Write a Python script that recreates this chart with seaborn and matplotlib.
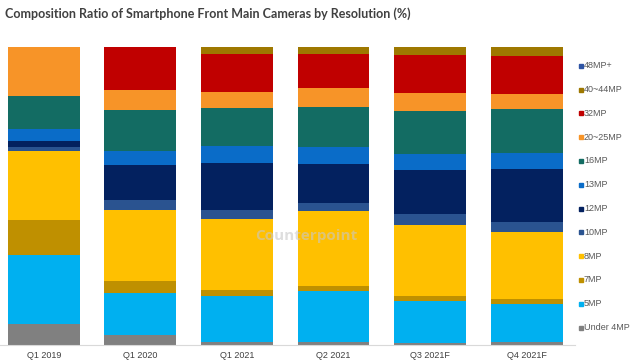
# Composition ratio of smartphone front main cameras by resolution (stacked bars)
import numpy as np
import pandas as pd
import seaborn as sns
import matplotlib.pyplot as plt

# Data (% share)
quarters = ["Q1 2019", "Q1 2020", "Q1 2021", "Q2 2021", "Q3 2021F", "Q4 2021F"]
resolutions = ["48MP+", "40~44MP", "32MP", "20~25MP", "16MP", "13MP",
               "12MP", "10MP", "8MP", "7MP", "5MP", "Under 4MP"]

mp48 = [0.0, 0.0, 0.0, 0.0, 0.0, 0.0]
mp40_44 = [0.0, 0.1, 2.5, 2.5, 2.8, 3.1]
mp32 = [0.2, 14.2, 12.7, 11.3, 12.7, 12.9]
mp20_25 = [16.4, 6.7, 5.4, 6.4, 6.0, 5.0]
mp16 = [11.2, 13.8, 12.9, 13.2, 14.3, 14.8]
mp13 = [3.9, 4.8, 5.6, 5.8, 5.6, 5.3]
mp12 = [2.0, 11.6, 15.7, 13.2, 14.8, 17.7]
mp10 = [1.3, 3.5, 3.2, 2.7, 3.7, 3.4]
mp8 = [23.1, 23.7, 23.9, 25.2, 23.7, 22.4]
mp7 = [12.0, 4.1, 1.7, 1.7, 1.5, 1.7]
mp5 = [23.0, 14.0, 15.5, 16.9, 14.3, 12.9]
under4 = [7.1, 3.5, 1.1, 1.1, 0.6, 0.9]

series = [mp48, mp40_44, mp32, mp20_25, mp16, mp13, mp12, mp10, mp8, mp7, mp5, under4]
colors = ["#2E54A4", "#9E7800", "#C00000", "#F79428", "#136C63", "#0A6CC8",
          "#03215F", "#2A5390", "#FFC000", "#BF9000", "#00B0F0", "#808080"]

df = pd.DataFrame(np.array(series).T, columns=resolutions)
df["Quarter"] = quarters

sns.set_style("white")
plt.rcParams["font.family"] = ["Liberation Sans", "DejaVu Sans"]

fig = plt.figure(figsize=(6.38, 3.63), dpi=100)
ax = fig.add_axes([0.0, 0.0496, 0.901, 0.821])

# stack from the top: draw cumulative totals, largest first, each over the last
cum = df[resolutions[::-1]].cumsum(axis=1)
for res, col in zip(resolutions, colors):
    sns.barplot(x=df["Quarter"], y=cum[res], color=col, width=0.745,
                saturation=1, ax=ax, linewidth=0)

ax.set_xlim(-0.455, 5.5)
ax.set_ylim(0, 100)
ax.set_yticks([])
ax.set_xlabel("")
ax.set_ylabel("")
for s in ["top", "right", "left"]:
    ax.spines[s].set_visible(False)
ax.spines["bottom"].set_color("#D9D9D9")
ax.spines["bottom"].set_linewidth(0.8)
ax.tick_params(axis="x", length=0, pad=4, labelsize=6.5, labelcolor="#404040")

# watermark
ax.text(2.72, 36.5, "Counterpoint", fontsize=11, fontweight="bold",
        color="#C8C8C8", alpha=0.6, ha="center", va="center", family="Open Sans")

# title
fig.text(0.008, 0.963, "Composition Ratio of Smartphone Front Main Cameras by Resolution (%)",
         fontsize=9, fontweight="bold", color="#404040", ha="left", va="center",
         family="Lato")

# legend, drawn as small squares with labels
W, H = 638, 363
for i, (res, col) in enumerate(zip(resolutions, colors)):
    y = 65.7 + i * 23.8
    fig.patches.append(plt.Rectangle((578.5 / W, 1 - (y + 2) / H), 4 / W, 4 / H,
                                     transform=fig.transFigure, color=col))
    fig.text(584 / W, 1 - y / H, res, fontsize=6.5, color="#595959",
             ha="left", va="center")

fig.savefig("out.png", dpi=100)
